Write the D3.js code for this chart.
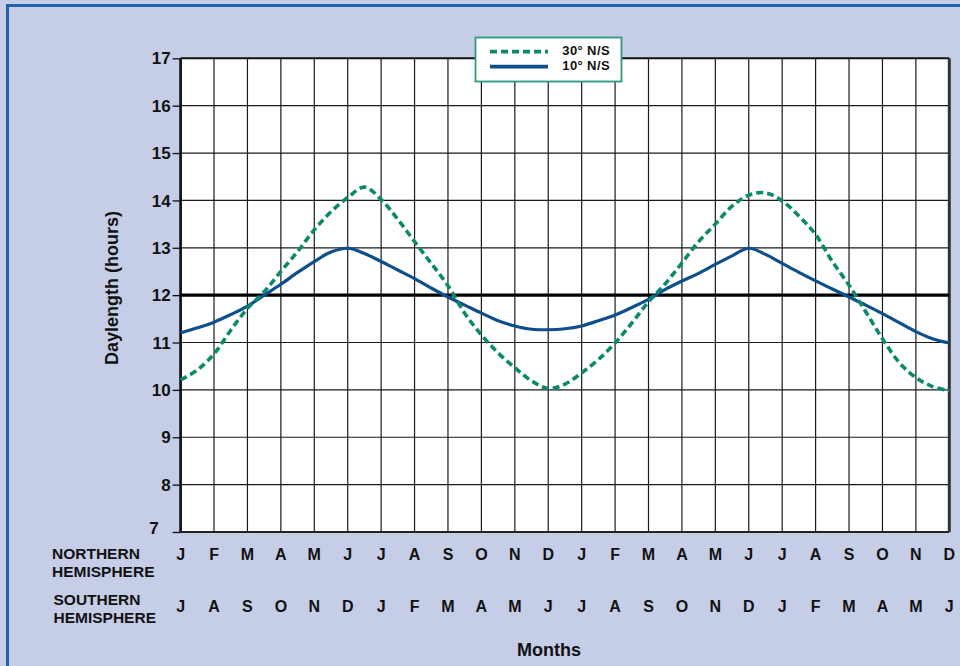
<!DOCTYPE html>
<html>
<head>
<meta charset="utf-8">
<script src="https://cdn.jsdelivr.net/npm/d3@7"></script>
<style>
  html, body { margin: 0; padding: 0; background: #c6cde6; }
  svg { display: block; }
  text { font-family: "Liberation Sans", Arial, Helvetica, sans-serif; font-weight: bold; fill: #111; }
</style>
</head>
<body>
<svg id="chart" width="960" height="666"></svg>
<script>
// Month initials along the x axis, one per grid column (two years)
const northMonths = ["J","F","M","A","M","J","J","A","S","O","N","D","J","F","M","A","M","J","J","A","S","O","N","D"];
const southMonths = ["J","A","S","O","N","D","J","F","M","A","M","J","J","A","S","O","N","D","J","F","M","A","M","J"];

// Y axis ticks (hours)
const hourTicks = [7, 8, 9, 10, 11, 12, 13, 14, 15, 16, 17];

// Daylength in hours, sampled every half month starting at the first January
const sampleStep = 0.5;
const lat10 = [11.20, 11.31, 11.43, 11.59, 11.77, 12.00, 12.23, 12.48, 12.71, 12.91,
               12.99, 12.88, 12.71, 12.53, 12.35, 12.15, 11.96, 11.79, 11.62, 11.46,
               11.35, 11.28, 11.27, 11.29, 11.35, 11.46, 11.58, 11.74, 11.91, 12.12,
               12.30, 12.46, 12.65, 12.83, 12.99, 12.86, 12.67, 12.48, 12.30, 12.13,
               11.96, 11.79, 11.61, 11.42, 11.23, 11.08, 10.99];
const lat30 = [10.21, 10.42, 10.76, 11.26, 11.72, 12.07, 12.50, 12.92, 13.38, 13.76,
               14.06, 14.28, 14.02, 13.60, 13.13, 12.67, 12.20, 11.62, 11.16, 10.78,
               10.47, 10.19, 10.03, 10.12, 10.36, 10.64, 10.99, 11.41, 11.86, 12.24,
               12.68, 13.13, 13.50, 13.88, 14.11, 14.16, 13.99, 13.67, 13.28, 12.71,
               12.21, 11.65, 11.08, 10.58, 10.26, 10.07, 9.98];

const seriesNames = ["30° N/S", "10° N/S"];

const svg = d3.select("#chart");

// outer panel with blue frame
svg.append("rect")
  .attr("x", 7.5).attr("y", 5.5)
  .attr("width", 1000).attr("height", 700)
  .attr("fill", "#c6cde6")
  .attr("stroke", "#1f62ab").attr("stroke-width", 3);

const x = d3.scaleLinear().domain([0, northMonths.length - 1]).range([180.6, 949.3]);
const y = d3.scaleLinear().domain([7, 17]).range([532, 58.3]);

// plot background
svg.append("rect")
  .attr("x", x(0)).attr("y", y(17))
  .attr("width", x(23) - x(0)).attr("height", y(7) - y(17))
  .attr("fill", "#fff");

// grid
const grid = svg.append("g");
grid.selectAll("line.v")
  .data(d3.range(1, northMonths.length - 1))
  .join("line")
  .attr("x1", d => x(d)).attr("x2", d => x(d))
  .attr("y1", y(17)).attr("y2", y(7))
  .attr("stroke", "#1a1a1a").attr("stroke-width", 1.2);
grid.selectAll("line.h")
  .data(hourTicks.filter(h => h > 7 && h < 17 && h !== 12))
  .join("line")
  .attr("x1", x(0)).attr("x2", x(23))
  .attr("y1", d => y(d)).attr("y2", d => y(d))
  .attr("stroke", "#1a1a1a").attr("stroke-width", 1.2);

// y axis with outward ticks
const yAxis = d3.axisLeft(y).tickValues(hourTicks).tickSize(8).tickPadding(2).tickFormat(d3.format("d"));
const yg = svg.append("g").attr("transform", `translate(${x(0)},0)`).call(yAxis);
yg.select(".domain").remove();
yg.selectAll(".tick line").attr("stroke", "#111").attr("stroke-width", 1.3);
yg.selectAll(".tick text")
  .style("font-size", "17px")
  .attr("fill", "#111")
  .attr("dx", d => d === 7 ? -12 : 0)
  .attr("dy", d => d === 7 ? "0.1em" : "0.33em");

// plot frame
svg.append("line").attr("x1", x(0)).attr("x2", x(23)).attr("y1", y(17)).attr("y2", y(17))
  .attr("stroke", "#111").attr("stroke-width", 2);
svg.append("line").attr("x1", x(0)).attr("x2", x(23)).attr("y1", y(7)).attr("y2", y(7))
  .attr("stroke", "#222").attr("stroke-width", 2);
svg.append("line").attr("x1", x(23)).attr("x2", x(23)).attr("y1", y(17)).attr("y2", y(7))
  .attr("stroke", "#333").attr("stroke-width", 3);
svg.append("line").attr("x1", x(0)).attr("x2", x(0)).attr("y1", y(17)).attr("y2", y(7))
  .attr("stroke", "#111").attr("stroke-width", 2.7);

// 12-hour reference line
svg.append("line").attr("x1", x(0)).attr("x2", x(23)).attr("y1", y(12)).attr("y2", y(12))
  .attr("stroke", "#000").attr("stroke-width", 3.2);

// curves
const line = d3.line()
  .x((d, i) => x(i * sampleStep))
  .y(d => y(d))
  .curve(d3.curveCatmullRom.alpha(0.5));

svg.append("path").datum(lat10)
  .attr("d", line)
  .attr("fill", "none")
  .attr("stroke", "#0d4f8c").attr("stroke-width", 3.2);

svg.append("path").datum(lat30)
  .attr("d", line)
  .attr("fill", "none")
  .attr("stroke", "#0b8a6b").attr("stroke-width", 3.6)
  .attr("stroke-dasharray", "7,4");

// month rows
const bottom = svg.append("g");
bottom.selectAll("text.n")
  .data(northMonths)
  .join("text")
  .attr("x", (d, i) => x(i)).attr("y", 559.5)
  .attr("text-anchor", "middle")
  .style("font-size", "16px")
  .text(d => d);
bottom.selectAll("text.s")
  .data(southMonths)
  .join("text")
  .attr("x", (d, i) => x(i)).attr("y", 612)
  .attr("text-anchor", "middle")
  .style("font-size", "16px")
  .text(d => d);

const rowLabel = (lines, xPos, ys) => {
  lines.forEach((t, k) => {
    svg.append("text").attr("x", xPos).attr("y", ys[k])
      .style("font-size", "15.5px")
      .text(t);
  });
};
rowLabel(["NORTHERN", "HEMISPHERE"], 52, [558.5, 576.5]);
rowLabel(["SOUTHERN", "HEMISPHERE"], 53.5, [604.5, 622.5]);

// axis titles
svg.append("text")
  .attr("x", 549).attr("y", 656)
  .attr("text-anchor", "middle")
  .style("font-size", "18px")
  .text("Months");

svg.append("text")
  .attr("transform", "translate(118,288) rotate(-90)")
  .attr("text-anchor", "middle")
  .style("font-size", "18px")
  .text("Daylength (hours)");

// legend
const legend = svg.append("g");
legend.append("rect")
  .attr("x", 475.5).attr("y", 37.5)
  .attr("width", 146).attr("height", 44)
  .attr("fill", "#fff")
  .attr("stroke", "#2a9a80").attr("stroke-width", 1.8);
legend.append("line")
  .attr("x1", 490).attr("x2", 548).attr("y1", 51.7).attr("y2", 51.7)
  .attr("stroke", "#0b8a6b").attr("stroke-width", 3.8).attr("stroke-dasharray", "7,4");
legend.append("line")
  .attr("x1", 490).attr("x2", 548).attr("y1", 66.7).attr("y2", 66.7)
  .attr("stroke", "#0d4f8c").attr("stroke-width", 3.8);
legend.selectAll("text.lg")
  .data(seriesNames)
  .join("text")
  .attr("x", 610).attr("y", (d, i) => 55.2 + i * 14.6)
  .attr("text-anchor", "end")
  .style("font-size", "13px")
  .style("letter-spacing", "0.4px")
  .text(d => d);
</script>
</body>
</html>
